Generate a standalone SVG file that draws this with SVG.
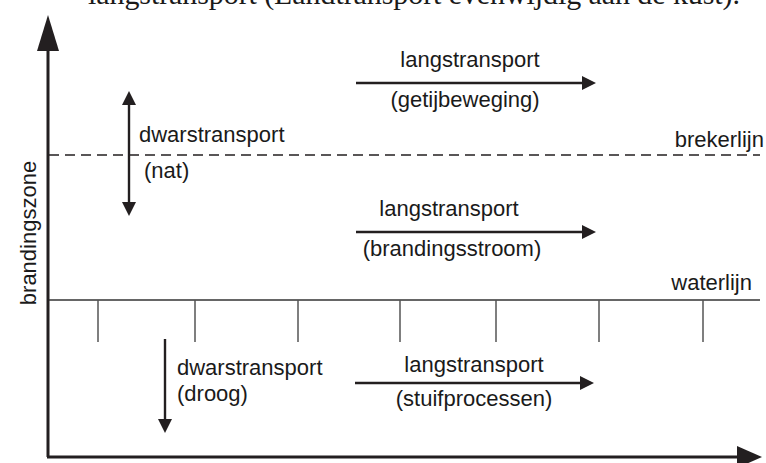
<svg xmlns="http://www.w3.org/2000/svg" width="766" height="463" viewBox="0 0 766 463">
<style>
.t{font-family:"Liberation Sans",Arial,sans-serif;font-size:22px;fill:#1a1a1a}
.s{font-family:"Liberation Serif","Times New Roman",serif;font-size:30px;fill:#1a1a1a}
.ax{stroke:#231f20;stroke-width:3;fill:none}
.ar{stroke:#231f20;stroke-width:2.4;fill:none}
.tick{stroke:#555;stroke-width:1.5}
</style>
<defs>
<marker id="ah" markerUnits="userSpaceOnUse" viewBox="0 0 14 14" markerWidth="14" markerHeight="14" refX="0" refY="7" orient="auto-start-reverse"><path d="M0,0 L14,7 L0,14 Z" fill="#231f20"/></marker>
<marker id="axh" markerUnits="userSpaceOnUse" viewBox="0 0 25 22" markerWidth="25" markerHeight="22" refX="0" refY="11" orient="auto"><path d="M0,0 L25,11 L0,22 Z" fill="#231f20"/></marker>
<marker id="axv" markerUnits="userSpaceOnUse" viewBox="0 0 36 22" markerWidth="36" markerHeight="22" refX="0" refY="11" orient="auto"><path d="M0,0 L36,11 L0,22 Z" fill="#231f20"/></marker>
</defs>
<text class="s" x="88" y="4" textLength="652">langstransport (Landtransport evenwijdig aan de kust).</text>
<g id="axes">
<path class="ax" d="M48,457 L48,51" marker-end="url(#axv)"/>
<path class="ax" d="M47,457 L737,457" marker-end="url(#axh)"/>
</g>
<g id="brekerlijn">
<line x1="49" y1="155" x2="760" y2="155" stroke="#231f20" stroke-width="1.6" stroke-dasharray="10,6"/>
<text class="t" x="764" y="147" text-anchor="end">brekerlijn</text>
</g>
<g id="waterlijn">
<line x1="49" y1="300" x2="760" y2="300" stroke="#333" stroke-width="1.6"/>
<text class="t" x="752" y="290" text-anchor="end">waterlijn</text>
<g class="tick">
<line x1="98" y1="300" x2="98" y2="342"/>
<line x1="195" y1="300" x2="195" y2="342"/>
<line x1="298" y1="300" x2="298" y2="342"/>
<line x1="400" y1="300" x2="400" y2="342"/>
<line x1="496" y1="300" x2="496" y2="342"/>
<line x1="599" y1="300" x2="599" y2="342"/>
<line x1="703" y1="300" x2="703" y2="342"/>
</g>
</g>
<g id="ylabel">
<text class="t" transform="translate(36,233) rotate(-90)" text-anchor="middle">brandingszone</text>
</g>
<g id="connectors">
<path class="ar" d="M129,105 L129,202" marker-start="url(#ah)" marker-end="url(#ah)"/>
<path class="ar" d="M356,83 L582,83" marker-end="url(#ah)"/>
<path class="ar" d="M356,232 L582,232" marker-end="url(#ah)"/>
<path class="ar" d="M165,339 L165,419" marker-end="url(#ah)"/>
<path class="ar" d="M355,383 L580,383" marker-end="url(#ah)"/>
</g>
<g id="nat">
<text class="t" x="139" y="142">dwarstransport</text>
<text class="t" x="144" y="178">(nat)</text>
</g>
<g id="getij">
<text class="t" x="470" y="67" text-anchor="middle">langstransport</text>
<text class="t" x="465" y="107" text-anchor="middle">(getijbeweging)</text>
</g>
<g id="branding">
<text class="t" x="449" y="216" text-anchor="middle">langstransport</text>
<text class="t" x="452" y="256" text-anchor="middle">(brandingsstroom)</text>
</g>
<g id="droog">
<text class="t" x="177" y="375">dwarstransport</text>
<text class="t" x="177" y="401">(droog)</text>
</g>
<g id="stuif">
<text class="t" x="474" y="372" text-anchor="middle">langstransport</text>
<text class="t" x="474" y="406" text-anchor="middle">(stuifprocessen)</text>
</g>
</svg>
